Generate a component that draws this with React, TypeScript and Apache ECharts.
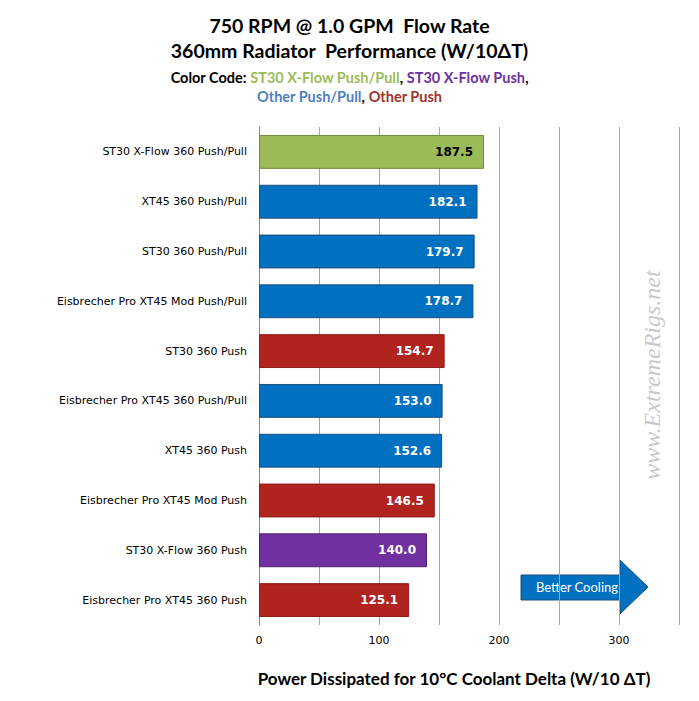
import { useEffect, useRef } from 'react'
import * as echarts from 'echarts'

const categories = [
  'ST30 X-Flow 360 Push/Pull',
  'XT45 360 Push/Pull',
  'ST30 360 Push/Pull',
  'Eisbrecher Pro XT45 Mod Push/Pull',
  'ST30 360 Push',
  'Eisbrecher Pro XT45 360 Push/Pull',
  'XT45 360 Push',
  'Eisbrecher Pro XT45 Mod Push',
  'ST30 X-Flow 360 Push',
  'Eisbrecher Pro XT45 360 Push',
]
const values = [187.5, 182.1, 179.7, 178.7, 154.7, 153.0, 152.6, 146.5, 140.0, 125.1]
// g = ST30 X-Flow push/pull, p = ST30 X-Flow push, b = other push/pull, r = other push
const groups = ['g', 'b', 'b', 'b', 'r', 'b', 'b', 'r', 'p', 'r']

const fills: Record<string, string> = { g: '#9bbb59', b: '#0070c0', r: '#b0231e', p: '#7030a0' }
const borders: Record<string, string> = { g: '#71893f', b: '#1f4e79', r: '#8c1a16', p: '#4f2070' }

function App() {
  const chartRef = useRef<HTMLDivElement>(null)

  useEffect(() => {
    if (!chartRef.current) return
    const chart = echarts.init(chartRef.current, undefined, { renderer: 'svg' })
    const font = 'Lato, "Open Sans", sans-serif'
    const sub = { fontFamily: font, fontSize: 14.5, fontWeight: 'bold' }

    chart.setOption({
      animation: false,
      backgroundColor: '#ffffff',
      title: {
        left: 'center',
        top: 8,
        text: '750 RPM @ 1.0 GPM  Flow Rate\n360mm Radiator  Performance (W/10ΔT)',
        textStyle: { fontFamily: font, fontSize: 19.5, fontWeight: 'bold', color: '#000', lineHeight: 25 },
        subtext: '{k|Color Code: }{g|ST30 X-Flow Push/Pull}{k|, }{p|ST30 X-Flow Push}{k|,}\n{b|Other Push/Pull}{k|, }{r|Other Push}',
        itemGap: 5,
        subtextStyle: {
          ...sub,
          lineHeight: 19,
          rich: {
            k: { ...sub, color: '#000' },
            g: { ...sub, color: '#9bbb59' },
            p: { ...sub, color: '#7030a0' },
            b: { ...sub, color: '#4f81bd' },
            r: { ...sub, color: '#a0312c' },
          },
        },
      },
      grid: { left: 259, right: 20, top: 127, bottom: 76 },
      xAxis: {
        type: 'value',
        min: 0,
        max: 350,
        interval: 50,
        axisLine: { show: false },
        axisTick: { show: false },
        splitLine: { lineStyle: { color: '#a6a6a6', width: 1 } },
        axisLabel: {
          color: '#000',
          fontFamily: 'DejaVu Sans, sans-serif',
          fontSize: 11,
          margin: 10,
          formatter: (v: number) => (v % 100 === 0 && v < 350 ? String(v) : ''),
        },
        name: 'Power Dissipated for 10°C Coolant Delta (W/10 ΔT)',
        nameLocation: 'middle',
        nameGap: 45,
        nameTextStyle: { fontFamily: font, fontSize: 17, fontWeight: 'bold', color: '#000', padding: [0, 30, 0, 0] },
      },
      yAxis: {
        type: 'category',
        data: categories,
        inverse: true,
        axisLine: { lineStyle: { color: '#868686' } },
        axisTick: { length: 5, lineStyle: { color: '#868686' } },
        axisLabel: { color: '#000', fontFamily: 'DejaVu Sans, sans-serif', fontSize: 11, margin: 12 },
      },
      series: [
        {
          type: 'bar',
          barCategoryGap: '32%',
          data: values.map((v, i) => ({
            value: v,
            itemStyle: { color: fills[groups[i]], borderColor: borders[groups[i]], borderWidth: 1 },
            label: { color: groups[i] === 'g' ? '#000' : '#fff' },
          })),
          label: {
            show: true,
            position: 'insideRight',
            offset: [-6, 0],
            fontFamily: 'DejaVu Sans, sans-serif',
            fontSize: 12,
            fontWeight: 'bold',
            formatter: (p: { value: number }) => p.value.toFixed(1),
          },
        },
      ],
      graphic: [
        {
          type: 'polygon',
          shape: { points: [[521, 575], [620, 575], [620, 560], [648, 587], [620, 614], [620, 600], [521, 600]] },
          style: { fill: '#0070c0', stroke: '#1f4e79', lineWidth: 1 },
        },
        {
          type: 'text',
          x: 577,
          y: 587,
          style: { text: 'Better Cooling', fill: '#fff', font: `13px ${font}`, align: 'center', verticalAlign: 'middle' },
        },
        {
          type: 'text',
          x: 652,
          y: 375,
          rotation: Math.PI / 2,
          style: {
            text: 'www.ExtremeRigs.net',
            fill: '#c8c8c8',
            font: 'italic 24px "Liberation Serif", serif',
            align: 'center',
            verticalAlign: 'middle',
          },
        },
      ],
    })
    return () => chart.dispose()
  }, [])

  return <div ref={chartRef} style={{ position: 'absolute', left: 0, top: 0, width: 699, height: 701 }} />
}

export default App
